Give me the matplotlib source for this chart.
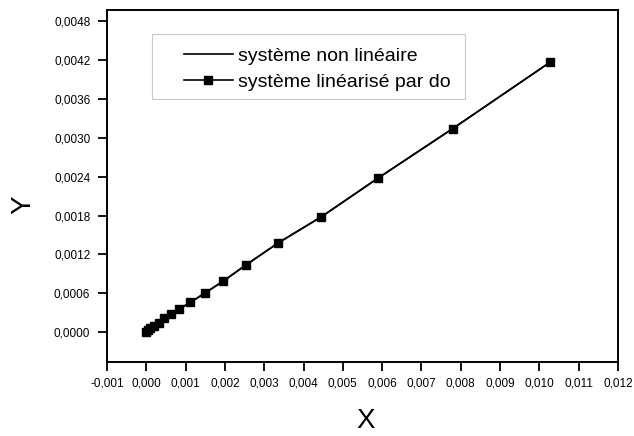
import numpy as np
import matplotlib.pyplot as plt
from matplotlib.patches import Rectangle
from matplotlib.ticker import FuncFormatter

plt.rcParams['font.family'] = ['Liberation Sans', 'DejaVu Sans']

# simulated response, nonlinear vs linearised model
x_vals = [0.0, 0.00005, 0.0001, 0.0002, 0.00033, 0.00046, 0.00064, 0.00084,
          0.00112, 0.00148, 0.00196, 0.00254, 0.00336, 0.00445, 0.0059,
          0.00779, 0.01028]
y_nonlin = [0.0, 0.00003, 0.00006, 0.0001, 0.00014, 0.00022, 0.00028, 0.00036,
            0.00046, 0.0006, 0.00079, 0.00104, 0.00138, 0.00178, 0.00238,
            0.00314, 0.00417]
y_lin = [0.0, 0.00003, 0.00006, 0.0001, 0.00014, 0.00022, 0.00028, 0.00036,
         0.00046, 0.0006, 0.00079, 0.00104, 0.00138, 0.00178, 0.00238,
         0.00314, 0.00417]

x_ticks = np.arange(-0.001, 0.0121, 0.001)
y_ticks = np.arange(0.0, 0.00481, 0.0006)

fig = plt.figure(figsize=(6.34, 4.36), dpi=100)
ax = fig.add_axes([0.1688, 0.1697, 0.806, 0.807])

ax.plot(x_vals, y_nonlin, color='black', lw=1.2, label='système non linéaire')
ax.plot(x_vals, y_lin, color='black', lw=1.2, marker='s', markersize=6,
        label='système linéarisé par do')

ax.set_xlim(-0.001, 0.012)
ax.set_ylim(-0.00046, 0.00497)
ax.set_xticks(x_ticks)
ax.set_yticks(y_ticks)
ax.xaxis.set_major_formatter(FuncFormatter(lambda v, p: f'{v:.3f}'.replace('.', ',').replace('-0,000', '0,000')))
ax.yaxis.set_major_formatter(FuncFormatter(lambda v, p: f'{v:.4f}'.replace('.', ',').replace('-0,0000', '0,0000')))
ax.tick_params(direction='out', length=6.5, width=1.3, labelsize=8.5)
ax.tick_params(axis='x', pad=4.5)
ax.tick_params(axis='y', pad=5.5)

for s in ax.spines.values():
    s.set_linewidth(1.4)

ax.set_xlabel('X', fontsize=20, va='center')
ax.set_ylabel('Y', fontsize=20, va='center', rotation=90)
ax.xaxis.set_label_coords(0.506, -0.168)
ax.yaxis.set_label_coords(-0.164, 0.446)

# legend frame drawn separately, wider on the left than the entries
ax.add_patch(Rectangle((0.088, 0.747), 0.612, 0.185, transform=ax.transAxes,
                       facecolor='white', edgecolor='#c8c8c8', lw=0.8, zorder=4))
leg = ax.legend(loc='upper left', bbox_to_anchor=(0.151, 0.895), fontsize=14,
                frameon=False, handlelength=2.5, borderpad=0,
                labelspacing=0.45, handletextpad=0.25, borderaxespad=0)
leg.set_zorder(5)

fig.savefig('out.png', dpi=100)
